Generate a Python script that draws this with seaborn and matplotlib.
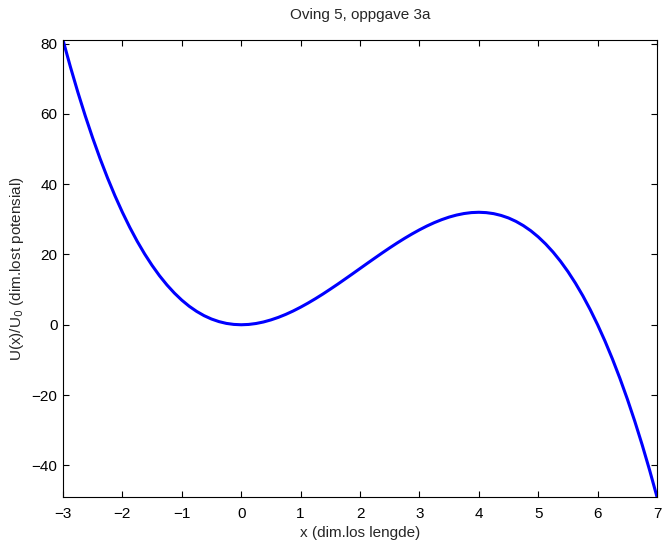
import matplotlib
matplotlib.use("Agg")
import matplotlib.pyplot as plt
import seaborn as sns
import pandas as pd

x_vals = [-3, -2.875, -2.75, -2.625, -2.5, -2.375, -2.25, -2.125, -2, -1.875, -1.75, -1.625,
          -1.5, -1.375, -1.25, -1.125, -1, -0.875, -0.75, -0.625, -0.5, -0.375, -0.25, -0.125,
          0, 0.125, 0.25, 0.375, 0.5, 0.625, 0.75, 0.875, 1, 1.125, 1.25, 1.375,
          1.5, 1.625, 1.75, 1.875, 2, 2.125, 2.25, 2.375, 2.5, 2.625, 2.75, 2.875,
          3, 3.125, 3.25, 3.375, 3.5, 3.625, 3.75, 3.875, 4, 4.125, 4.25, 4.375,
          4.5, 4.625, 4.75, 4.875, 5, 5.125, 5.25, 5.375, 5.5, 5.625, 5.75, 5.875,
          6, 6.125, 6.25, 6.375, 6.5, 6.625, 6.75, 6.875, 7]
u_vals = [81, 73.36, 66.17, 59.43, 53.13, 47.24, 41.77, 36.69, 32, 27.69, 23.73, 20.13,
          16.88, 13.94, 11.33, 9.02, 7, 5.26, 3.80, 2.59, 1.63, 0.90, 0.39, 0.10,
          0, 0.09, 0.36, 0.79, 1.38, 2.10, 2.95, 3.92, 5, 6.17, 7.42, 8.74,
          10.13, 11.55, 13.02, 14.50, 16, 17.50, 18.98, 20.45, 21.88, 23.26, 24.58, 25.83,
          27, 28.08, 29.05, 29.90, 30.63, 31.21, 31.64, 31.91, 32, 31.90, 31.61, 31.10,
          30.38, 29.41, 28.20, 26.74, 25, 22.98, 20.67, 18.06, 15.13, 11.87, 8.27, 4.31,
          0, -4.69, -9.77, -15.24, -21.13, -27.43, -34.17, -41.36, -49]
x_ticks = [-3, -2, -1, 0, 1, 2, 3, 4, 5, 6, 7]
y_ticks = [-40, -20, 0, 20, 40, 60, 80]

sns.set_style("ticks")
plt.rcParams['font.family'] = ['Liberation Sans', 'DejaVu Sans']
plt.rcParams['axes.unicode_minus'] = True

df = pd.DataFrame({"x": x_vals, "u": u_vals})

fig = plt.figure(figsize=(6.63, 5.44), dpi=100)
ax = fig.add_axes([0.095, 0.0864, 0.896, 0.840])
sns.lineplot(data=df, x="x", y="u", ax=ax, color=(0, 0, 1), linewidth=2.2, sort=False)

ax.set_xlim(-3, 7)
ax.set_ylim(-49, 81)
ax.set_xticks(x_ticks)
ax.set_yticks(y_ticks)
ax.tick_params(direction="in", top=True, right=True, length=4, width=0.8,
               labelsize=11, colors="black")
ax.tick_params(axis="x", pad=7)
ax.tick_params(axis="y", pad=4)
for s in ax.spines.values():
    s.set_visible(True)
    s.set_linewidth(0.8)
    s.set_color("black")
ax.set_xlabel("x (dim.los lengde)", fontsize=11, labelpad=4)
ax.set_ylabel("U(x)/U$_0$ (dim.lost potensial)", fontsize=11, labelpad=4)
ax.set_title("Oving 5, oppgave 3a", fontsize=11, pad=15)

fig.savefig("out.png", dpi=100)
